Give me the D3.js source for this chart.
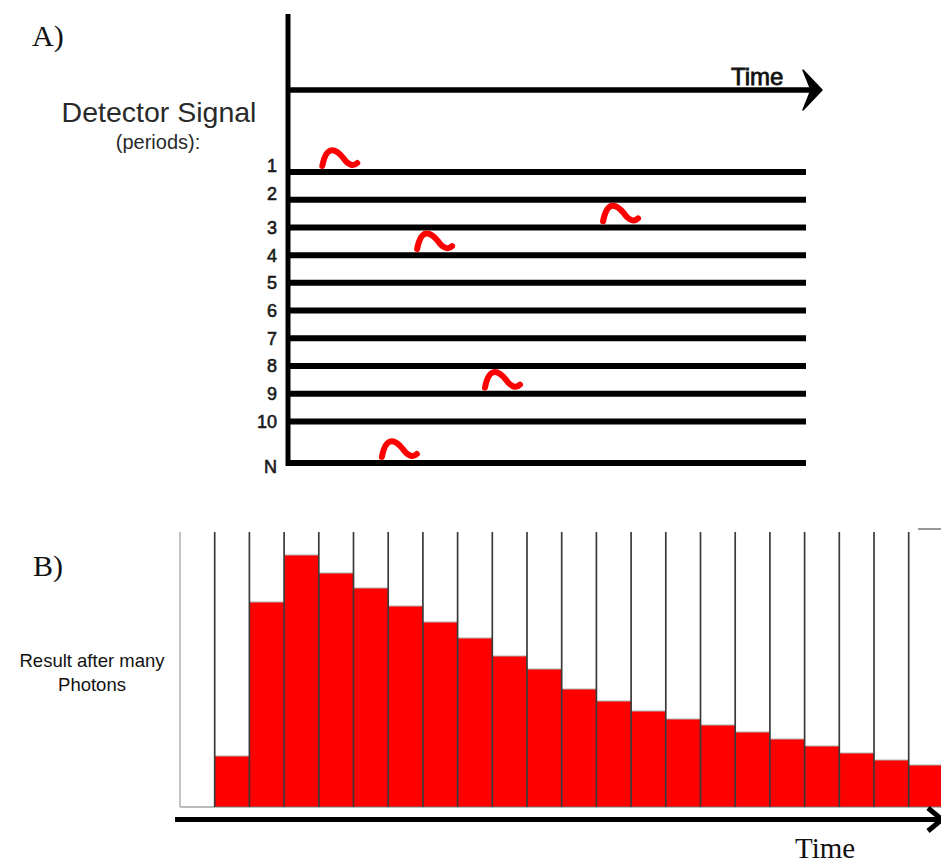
<!DOCTYPE html>
<html><head><meta charset="utf-8">
<script src="https://cdn.jsdelivr.net/npm/d3@7"></script>
<style>html,body{margin:0;padding:0;background:#fff;overflow:hidden}</style>
</head><body><svg id="c" width="941" height="864"></svg>
<script>
// ---- Data ----
const rowLabels = ["1","2","3","4","5","6","7","8","9","10","N"];
const rowIndex  = [1,2,3,4,5,6,7,8,9,10,11.5];
const photonRows  = ["1","3","4","9","N"];
const photonTimes = [9.9, 64.1, 28.2, 41.3, 21.4];
const binIndex  = d3.range(22);
const binCounts = [0, 51, 205, 252, 234, 219, 201, 185, 169, 151, 138, 118, 106, 96, 88, 82, 75, 68, 61, 54, 47, 42];

const svg = d3.select("#c");
svg.append("rect").attr("width",941).attr("height",864).attr("fill","#fff");
const defs = svg.append("defs");
const f = defs.append("filter").attr("id","sh").attr("x","-5%").attr("y","-200%").attr("width","110%").attr("height","500%");
f.append("feGaussianBlur").attr("stdDeviation",2.2);

// ---- Panel A ----
const yRow = d3.scaleLinear().domain([1, 11.5]).range([172, 463]);
const xTime = d3.scaleLinear().domain([0, 100]).range([288, 806]);
const rowY = new Map(rowLabels.map((r,i)=>[r, yRow(rowIndex[i])]));

const gA = svg.append("g");
gA.append("text").attr("x",32).attr("y",46).attr("font-family","Liberation Serif, serif")
  .attr("font-size",30).attr("fill","#111").text("A)");
gA.append("text").attr("x",159).attr("y",122).attr("text-anchor","middle")
  .attr("font-family","Liberation Sans, Arial, sans-serif").attr("font-size",28.5).attr("fill","#2a2a2a").text("Detector Signal");
gA.append("text").attr("x",158).attr("y",149).attr("text-anchor","middle")
  .attr("font-family","Liberation Sans, Arial, sans-serif").attr("font-size",20).attr("fill","#2a2a2a").text("(periods):");

// axis vertical
gA.append("line").attr("x1",xTime(0)).attr("x2",xTime(0)).attr("y1",14).attr("y2",yRow(11.5)+3)
  .attr("stroke","#000").attr("stroke-width",5);
// time arrow
gA.append("line").attr("x1",xTime(0)).attr("x2",812).attr("y1",90).attr("y2",90)
  .attr("stroke","#000").attr("stroke-width",5.5);
gA.append("path").attr("d","M822,90 L803,70 L811,90 L803,110 Z").attr("fill","#000")
  .attr("stroke","#000").attr("stroke-width",1.5).attr("stroke-linejoin","round");
gA.append("text").attr("x",731).attr("y",85).attr("font-family","Liberation Sans, Arial, sans-serif")
  .attr("font-size",24).attr("fill","#111").attr("stroke","#111").attr("stroke-width",0.8).text("Time");

// period lines
gA.selectAll("line.row").data(rowLabels).join("line").attr("class","row")
  .attr("x1",xTime(0)).attr("x2",xTime(100))
  .attr("y1",d=>rowY.get(d)).attr("y2",d=>rowY.get(d))
  .attr("stroke","#000").attr("stroke-width",6);
gA.selectAll("text.rl").data(rowLabels).join("text").attr("class","rl")
  .attr("x",277).attr("y",(d,i)=>rowY.get(d) + (i<2 ? -6 : (d==="N"?4:0)))
  .attr("dy","0.36em").attr("text-anchor","end")
  .attr("font-family","Liberation Sans, Arial, sans-serif").attr("font-size",18).attr("fill","#1a1a1a")
  .attr("stroke","#1a1a1a").attr("stroke-width",0.6)
  .text(d=>d);

// photons
gA.selectAll("path.ph").data(photonRows).join("path").attr("class","ph")
  .attr("transform",(d,i)=>`translate(${xTime(photonTimes[i])},${rowY.get(d)-6})`)
  .attr("d","M-17,0 C-13,-21 -4,-18 4,-8 C9,-1 14,1 18,-3")
  .attr("fill","none").attr("stroke","#ff0000").attr("stroke-width",6).attr("stroke-linecap","round");

// ---- Panel B ----
const xBin = d3.scaleBand().domain(binIndex).range([180, 180 + 22*34.7]).padding(0);
const yCount = d3.scaleLinear().domain([0, 275]).range([807, 532]);

const gB = svg.append("g");
gB.append("text").attr("x",33).attr("y",576).attr("font-family","Liberation Serif, serif")
  .attr("font-size",30).attr("fill","#111").text("B)");
gB.append("text").attr("x",92).attr("y",667).attr("text-anchor","middle")
  .attr("font-family","Liberation Sans, Arial, sans-serif").attr("font-size",18.5).attr("fill","#111").text("Result after many");
gB.append("text").attr("x",92).attr("y",691).attr("text-anchor","middle")
  .attr("font-family","Liberation Sans, Arial, sans-serif").attr("font-size",18.5).attr("fill","#111").text("Photons");

const bars = binIndex.filter(i=>binCounts[i]>0);
gB.selectAll("rect.bar").data(bars).join("rect").attr("class","bar")
  .attr("x",i=>xBin(i)).attr("width",xBin.bandwidth())
  .attr("y",i=>yCount(binCounts[i])).attr("height",i=>yCount(0)-yCount(binCounts[i]))
  .attr("fill","#ff0000");
gB.selectAll("line.top").data(bars).join("line").attr("class","top")
  .attr("x1",i=>xBin(i)).attr("x2",i=>xBin(i)+xBin.bandwidth())
  .attr("y1",i=>yCount(binCounts[i])).attr("y2",i=>yCount(binCounts[i]))
  .attr("stroke","#b0b0b0").attr("stroke-width",1);
// baseline
gB.append("line").attr("x1",xBin(0)).attr("x2",941).attr("y1",yCount(0)).attr("y2",yCount(0))
  .attr("stroke","#777").attr("stroke-width",1.2);
// column dividers
gB.selectAll("line.col").data(binIndex).join("line").attr("class","col")
  .attr("x1",i=>xBin(i)).attr("x2",i=>xBin(i))
  .attr("y1",yCount(275)).attr("y2",yCount(0))
  .attr("stroke",i=>i===0?"#b0b0b0":"#3a3a3a").attr("stroke-width",i=>i===0?1.5:1.7);
// corner tick
gB.append("line").attr("x1",918).attr("x2",941).attr("y1",529).attr("y2",529)
  .attr("stroke","#777").attr("stroke-width",1.5);

// bottom time arrow with shadow
gB.append("line").attr("x1",176).attr("x2",941).attr("y1",824).attr("y2",824)
  .attr("stroke","#888").attr("stroke-width",5).attr("filter","url(#sh)");
gB.append("line").attr("x1",175).attr("x2",941).attr("y1",819.5).attr("y2",819.5)
  .attr("stroke","#000").attr("stroke-width",5);
gB.append("path").attr("d","M928,808 L942,819.5 L928,831").attr("fill","none")
  .attr("stroke","#000").attr("stroke-width",5);
gB.append("text").attr("x",795).attr("y",858).attr("font-family","Liberation Serif, serif")
  .attr("font-size",29).attr("fill","#111").text("Time");
</script></body></html>
